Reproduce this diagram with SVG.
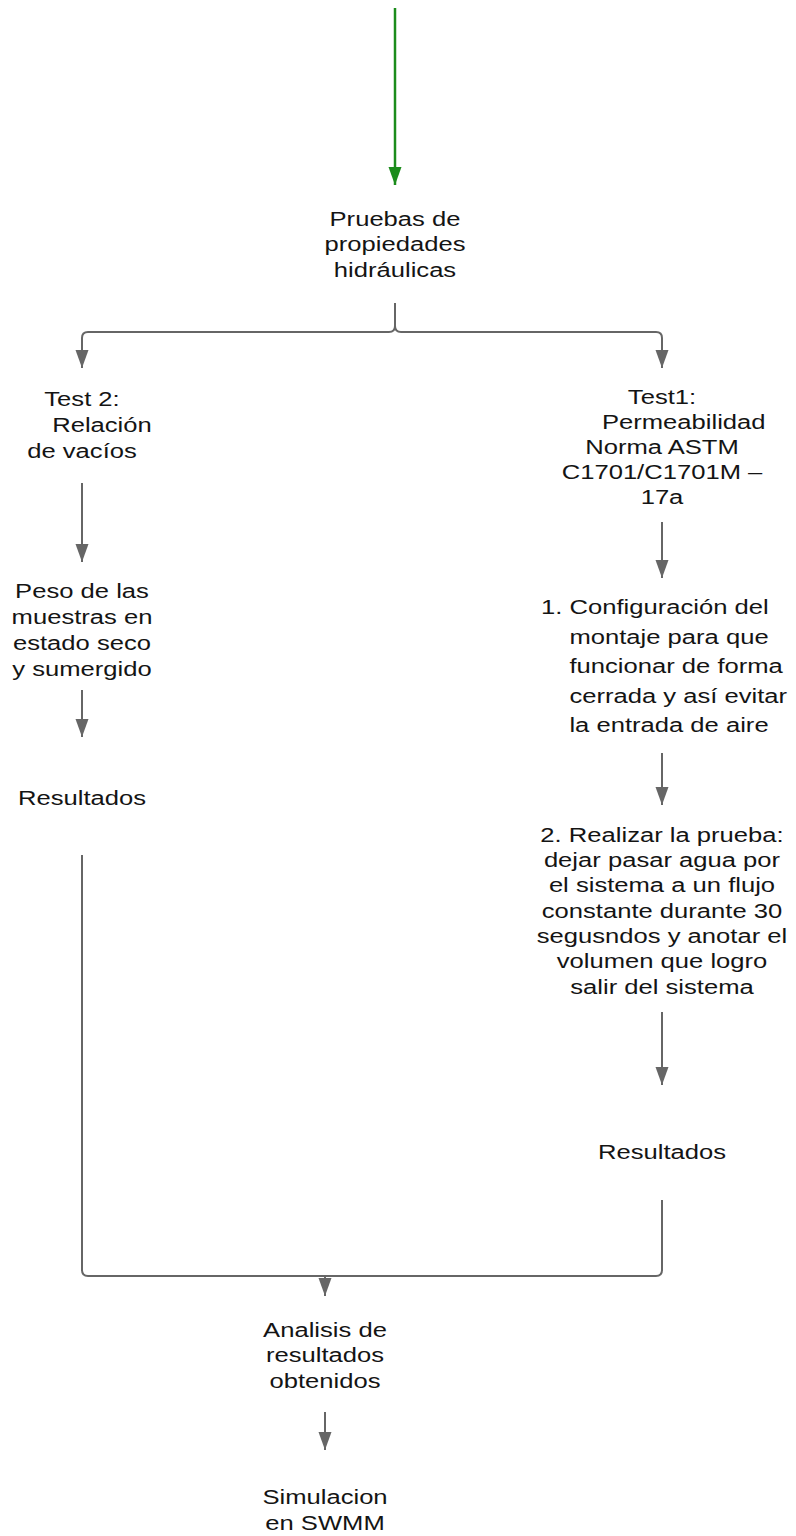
<svg xmlns="http://www.w3.org/2000/svg" width="796" height="1536" viewBox="0 0 796 1536">
<style>
.t{font-family:"Liberation Sans",Arial,sans-serif;font-size:20px;fill:#141414;text-anchor:middle}
.s{text-anchor:start}
.c{fill:none;stroke:#666;stroke-width:2;marker-end:url(#ah)}
.w{fill:none;stroke:#666;stroke-width:2}
.g{fill:none;stroke:#1c8c1c;stroke-width:2.5;marker-end:url(#ag)}
</style>
<defs>
<marker id="ah" markerUnits="userSpaceOnUse" markerWidth="18" markerHeight="14" refX="18" refY="6.5" orient="auto"><path d="M0,0 L18,6.5 L0,13 z" fill="#666"/></marker>
<marker id="ag" markerUnits="userSpaceOnUse" markerWidth="18" markerHeight="14" refX="18" refY="6.5" orient="auto"><path d="M0,0 L18,6.5 L0,13 z" fill="#1c8c1c"/></marker>
</defs>
<rect width="796" height="1536" fill="#fff"/>
<g id="connectors">
<path class="g" d="M395,8 L395,185"/>
<path class="w" d="M395,303 L395,326 Q395,332 389,332 L88,332 Q82,332 82,338 L82,345"/>
<path class="c" d="M82,344 L82,368"/>
<path class="w" d="M395,326 Q395,332 401,332 L656,332 Q662,332 662,338 L662,345"/>
<path class="c" d="M662,344 L662,368"/>
<path class="c" d="M82,483 L82,562"/>
<path class="c" d="M82,690 L82,737"/>
<path class="w" d="M82,855 L82,1270 Q82,1276 88,1276 L656,1276 Q662,1276 662,1270 L662,1200"/>
<path class="c" d="M325,1276 L325,1296"/>
<path class="c" d="M662,522 L662,578"/>
<path class="c" d="M662,753 L662,805"/>
<path class="c" d="M662,1012 L662,1085"/>
<path class="c" d="M325,1412 L325,1450"/>
</g>
<g id="pruebas" transform="translate(395 0) scale(1.28 1)"><text class="t"><tspan x="0" y="226">Pruebas de</tspan><tspan x="0" y="251">propiedades</tspan><tspan x="0" y="277">hidráulicas</tspan></text></g>
<g id="test2" transform="translate(82 0) scale(1.28 1)"><text class="t"><tspan x="0" y="406">Test 2:</tspan><tspan x="15.6" y="432">Relación</tspan><tspan x="0" y="458">de vacíos</tspan></text></g>
<g id="peso" transform="translate(82 0) scale(1.28 1)"><text class="t"><tspan x="0" y="598">Peso de las</tspan><tspan x="0" y="624">muestras en</tspan><tspan x="0" y="650">estado seco</tspan><tspan x="0" y="676">y sumergido</tspan></text></g>
<g id="resultados2" transform="translate(82 0) scale(1.28 1)"><text class="t"><tspan x="0" y="805">Resultados</tspan></text></g>
<g id="test1" transform="translate(662 0) scale(1.28 1)"><text class="t"><tspan x="0" y="404">Test1:</tspan><tspan x="17" y="429">Permeabilidad</tspan><tspan x="0" y="454">Norma ASTM</tspan><tspan x="0" y="479">C1701/C1701M –</tspan><tspan x="0" y="504">17a</tspan></text></g>
<g id="paso1" transform="translate(541 0) scale(1.28 1)"><text class="t s"><tspan x="0" y="614">1. Configuración del</tspan><tspan x="22.2" y="644">montaje para que</tspan><tspan x="22.2" y="673">funcionar de forma</tspan><tspan x="22.2" y="703">cerrada y así evitar</tspan><tspan x="22.2" y="732">la entrada de aire</tspan></text></g>
<g id="paso2" transform="translate(662 0) scale(1.28 1)"><text class="t"><tspan x="0" y="842">2. Realizar la prueba:</tspan><tspan x="0" y="867">dejar pasar agua por</tspan><tspan x="0" y="892">el sistema a un flujo</tspan><tspan x="0" y="918">constante durante 30</tspan><tspan x="0" y="943">segusndos y anotar el</tspan><tspan x="0" y="968">volumen que logro</tspan><tspan x="0" y="994">salir del sistema</tspan></text></g>
<g id="resultados1" transform="translate(662 0) scale(1.28 1)"><text class="t"><tspan x="0" y="1159">Resultados</tspan></text></g>
<g id="analisis" transform="translate(325 0) scale(1.28 1)"><text class="t"><tspan x="0" y="1337">Analisis de</tspan><tspan x="0" y="1362">resultados</tspan><tspan x="0" y="1388">obtenidos</tspan></text></g>
<g id="simulacion" transform="translate(325 0) scale(1.28 1)"><text class="t"><tspan x="0" y="1504">Simulacion</tspan><tspan x="0" y="1530">en SWMM</tspan></text></g>
</svg>
